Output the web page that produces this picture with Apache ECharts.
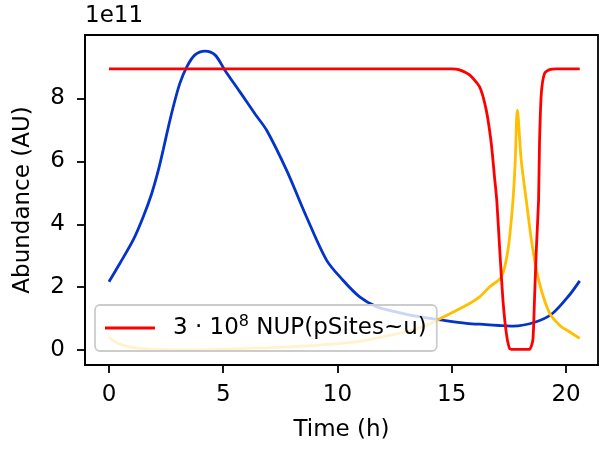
<!DOCTYPE html>
<html>
<head>
<meta charset="utf-8">
<script src="https://cdn.jsdelivr.net/npm/echarts@6/dist/echarts.min.js"></script>
<style>
html,body{margin:0;padding:0;background:#fff;}
#chart{width:601px;height:450px;}
</style>
</head>
<body>
<div id="chart"></div>
<script>
// Values are in units of 1e11 (axis offset text "1e11")
var blueTime = [0, 0.48, 1.06, 1.5, 1.87, 2.16, 2.37, 2.6, 2.81, 3.1, 3.4, 3.75, 4.2, 4.65, 5.07, 5.73, 6.4, 6.9, 7.77, 8.64, 9.52, 10.24, 10.97, 11.7, 12.4, 13.16, 14.61, 15.64, 16.5, 17.1, 17.68, 18.7, 19.42, 20.15, 20.6];
var blueVal  = [2.17, 2.76, 3.5, 4.24, 4.98, 5.72, 6.36, 7.1, 7.73, 8.48, 9.0, 9.38, 9.51, 9.38, 8.9, 8.21, 7.5, 6.99, 5.72, 4.24, 2.86, 2.22, 1.69, 1.38, 1.24, 1.11, 0.95, 0.85, 0.81, 0.78, 0.76, 0.9, 1.17, 1.75, 2.2];

var yellowTime = [0, 0.5, 1.36, 2.5, 3.54, 6, 7.91, 10.83, 12.5, 13.74, 14.5, 15.78, 16.22, 16.66, 17.17, 17.46, 17.68, 17.78, 17.87, 18.04, 18.26, 18.55, 18.84, 19.28, 19.72, 20.15, 20.6];
var yellowVal  = [0.40, 0.18, 0.05, 0.01, 0.0, 0.05, 0.1, 0.26, 0.5, 0.74, 1.0, 1.48, 1.69, 2.01, 2.33, 3.18, 4.77, 6.04, 7.63, 6.04, 4.77, 3.18, 2.12, 1.17, 0.79, 0.58, 0.37];

var redTime = [0, 15.0, 15.3, 15.78, 16.22, 16.51, 16.73, 16.87, 16.97, 17.1, 17.24, 17.39, 17.53, 17.68, 18.0, 18.4, 18.55, 18.62, 18.7, 18.8, 18.84, 18.92, 19.06, 19.28, 19.6, 20.6];
var redVal  = [8.94, 8.94, 8.92, 8.75, 8.37, 7.63, 6.57, 5.51, 4.77, 3.18, 1.59, 0.53, 0.05, 0.02, 0.02, 0.02, 0.32, 1.59, 3.18, 4.77, 6.57, 8.16, 8.8, 8.92, 8.94, 8.94];

var xTicks = [0, 5, 10, 15, 20];
var yTicks = [0, 2, 4, 6, 8];
var redLabel = '3 · 10{sup|8} NUP(pSites~u)';

function zip(a, b) { return a.map(function (v, i) { return [v, b[i]]; }); }

var FONT = 'DejaVu Sans';
var tickStyle = {color: '#000', width: 1.8, type: [30, 0]};
var chart = echarts.init(document.getElementById('chart'), null, {renderer: 'canvas'});
chart.setOption({
  animation: false,
  backgroundColor: '#fff',
  textStyle: {fontFamily: FONT},
  grid: {left: 85, right: 3, top: 35, bottom: 85, show: true, borderColor: '#000', borderWidth: 1.8, containLabel: false},
  graphic: [{
    type: 'text', left: 85, top: 5,
    style: {text: '1e11', font: '23px "DejaVu Sans"', fill: '#000'}
  }],
  xAxis: {
    type: 'value', min: -1.05, max: 21.4,
    name: 'Time (h)', nameLocation: 'middle', nameGap: 54,
    nameTextStyle: {fontSize: 23, color: '#000', fontFamily: FONT},
    axisLine: {show: true, onZero: false, lineStyle: {color: '#000', width: 1.8}},
    axisTick: {show: true, length: 8, lineStyle: tickStyle, customValues: xTicks},
    axisLabel: {fontSize: 23, color: '#000', margin: 19, fontFamily: FONT, customValues: xTicks},
    splitLine: {show: false}
  },
  yAxis: {
    type: 'value', min: -0.477, max: 10.02,
    name: 'Abundance (AU)', nameLocation: 'middle', nameGap: 50, nameRotate: 90,
    nameTextStyle: {fontSize: 23, color: '#000', fontFamily: FONT},
    axisLine: {show: true, onZero: false, lineStyle: {color: '#000', width: 1.8}},
    axisTick: {show: true, length: 8, lineStyle: tickStyle, customValues: yTicks},
    axisLabel: {fontSize: 23, color: '#000', margin: 20, fontFamily: FONT, customValues: yTicks},
    splitLine: {show: false}
  },
  legend: {
    left: 95, top: 305,
    padding: [9, 10, 9, 10],
    backgroundColor: 'rgba(255,255,255,0.8)',
    borderColor: '#cccccc', borderWidth: 1.8, borderRadius: 5,
    itemWidth: 50, itemHeight: 14,
    data: [{name: 'red', icon: 'path://M0,0L50,0L50,3L0,3Z', itemStyle: {color: '#ff0000'}}],
    formatter: function () { return redLabel; },
    textStyle: {
      fontSize: 23, color: '#000', fontFamily: FONT, padding: [0, 0, 0, 13], lineHeight: 28,
      rich: {sup: {fontSize: 16, verticalAlign: 'top', lineHeight: 12, fontFamily: FONT, color: '#000'}}
    }
  },
  series: [
    {name: 'blue', type: 'line', data: zip(blueTime, blueVal), showSymbol: false, smooth: 0.3,
     lineStyle: {color: '#0433c8', width: 2.8}, itemStyle: {color: '#0433c8'}, z: 2},
    {name: 'yellow', type: 'line', data: zip(yellowTime, yellowVal), showSymbol: false, smooth: 0.3,
     lineStyle: {color: '#ffbf00', width: 2.8}, itemStyle: {color: '#ffbf00'}, z: 3},
    {name: 'red', type: 'line', data: zip(redTime, redVal), showSymbol: false, smooth: 0.2,
     lineStyle: {color: '#ff0000', width: 2.8}, itemStyle: {color: '#ff0000'}, z: 4}
  ]
});
</script>
</body>
</html>
